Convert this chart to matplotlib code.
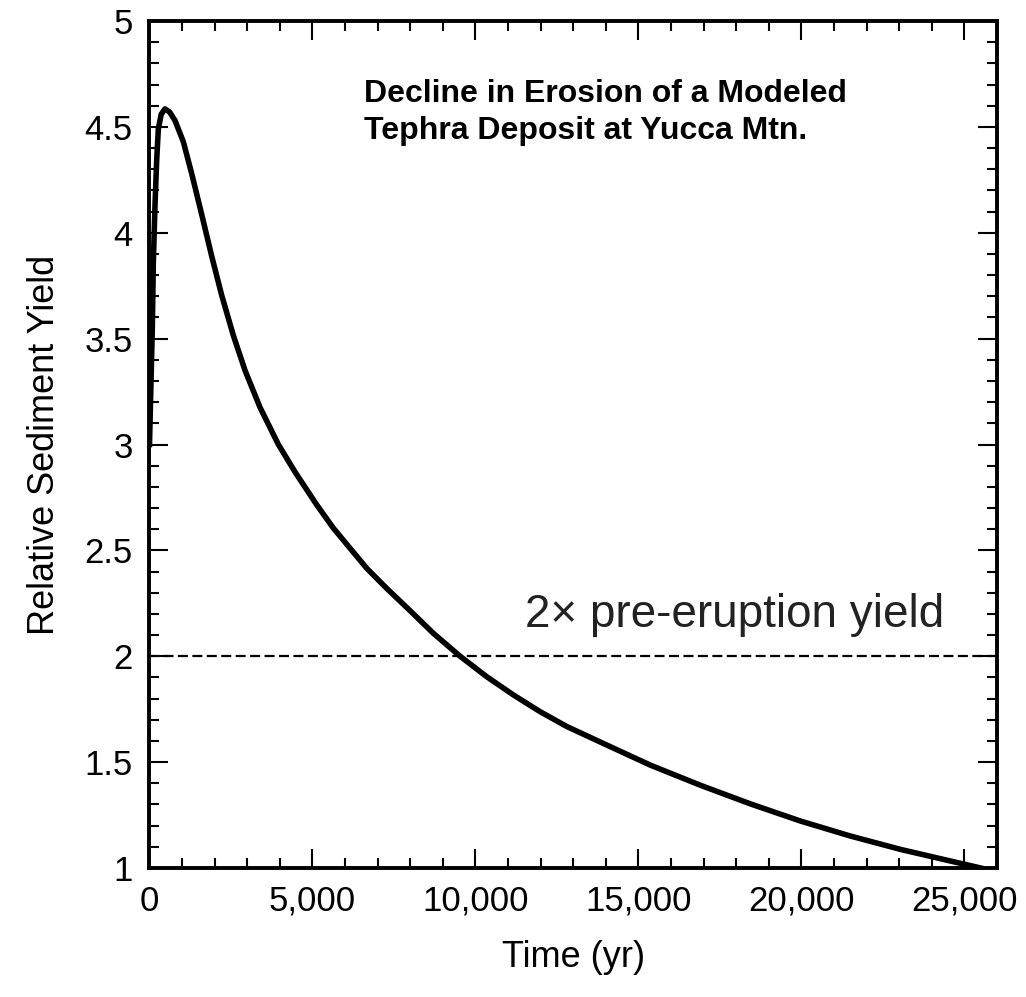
"""Decline in erosion of a modeled tephra deposit.
"""

import matplotlib
matplotlib.use("Agg")
import matplotlib.pyplot as plt
from matplotlib.ticker import MultipleLocator, FuncFormatter

plt.rcParams["font.family"] = ["Liberation Sans", "DejaVu Sans"]

# Values
time_yr = [0, 87, 118, 169, 220, 271, 360, 476, 620, 783, 1038, 1294,
           1601, 1908, 2215, 2573, 2931, 3392, 3955, 4466, 5131, 5642,
           6154, 6667, 7280, 7996, 8711, 9530, 10350, 11167, 11986,
           12805, 13828, 15363, 16897, 18432, 19966, 21501, 23036,
           24570, 25500]
yield_rel = [3.0, 3.55, 3.86, 4.13, 4.34, 4.49, 4.56, 4.585, 4.57, 4.53,
             4.43, 4.28, 4.087, 3.89, 3.705, 3.515, 3.35, 3.175,
             3.0, 2.87, 2.715, 2.605, 2.51, 2.415, 2.32, 2.215,
             2.108, 2.0, 1.903, 1.817, 1.738, 1.668, 1.595, 1.486, 1.391,
             1.303, 1.222, 1.151, 1.088, 1.033, 1.0]

threshold = 2.0
x_ticks = [0, 5000, 10000, 15000, 20000, 25000]

fig = plt.figure(figsize=(10.26, 9.97), dpi=100)
ax = fig.add_axes([0.1457, 0.1294, 0.826, 0.8495])

ax.plot(time_yr, yield_rel, color="black", lw=4, solid_joinstyle="round")
ax.axhline(threshold, color="black", lw=1.6, dashes=(4.5, 2))

ax.set_xlim(0, 26000)
ax.set_ylim(1, 5)
ax.set_xticks(x_ticks)
ax.xaxis.set_major_formatter(FuncFormatter(lambda v, p: f"{int(v):,}"))
ax.xaxis.set_minor_locator(MultipleLocator(1000))
ax.yaxis.set_major_locator(MultipleLocator(0.5))
ax.yaxis.set_minor_locator(MultipleLocator(0.1))
ax.yaxis.set_major_formatter(FuncFormatter(lambda v, p: f"{v:g}"))

ax.tick_params(which="both", direction="in", top=True, right=True,
               width=1.5, colors="black", labelsize=25)
ax.tick_params(which="major", length=14, pad=12)
ax.tick_params(which="minor", length=7)
for s in ax.spines.values():
    s.set_linewidth(2.8)

ax.set_xlabel("Time (yr)", fontsize=26, labelpad=16)
ax.set_ylabel("Relative Sediment Yield", fontsize=26, labelpad=16)

ax.text(0.253, 0.932, "Decline in Erosion of a Modeled\nTephra Deposit at Yucca Mtn.",
        transform=ax.transAxes, fontsize=23, fontweight="bold",
        va="top", ha="left", linespacing=1.3)
ax.text(0.443, 2.09, "2\u00d7 pre-eruption yield", transform=ax.get_yaxis_transform(),
        fontsize=33, color="#222222", ha="left", va="bottom")

fig.savefig("out.png", dpi=100)
